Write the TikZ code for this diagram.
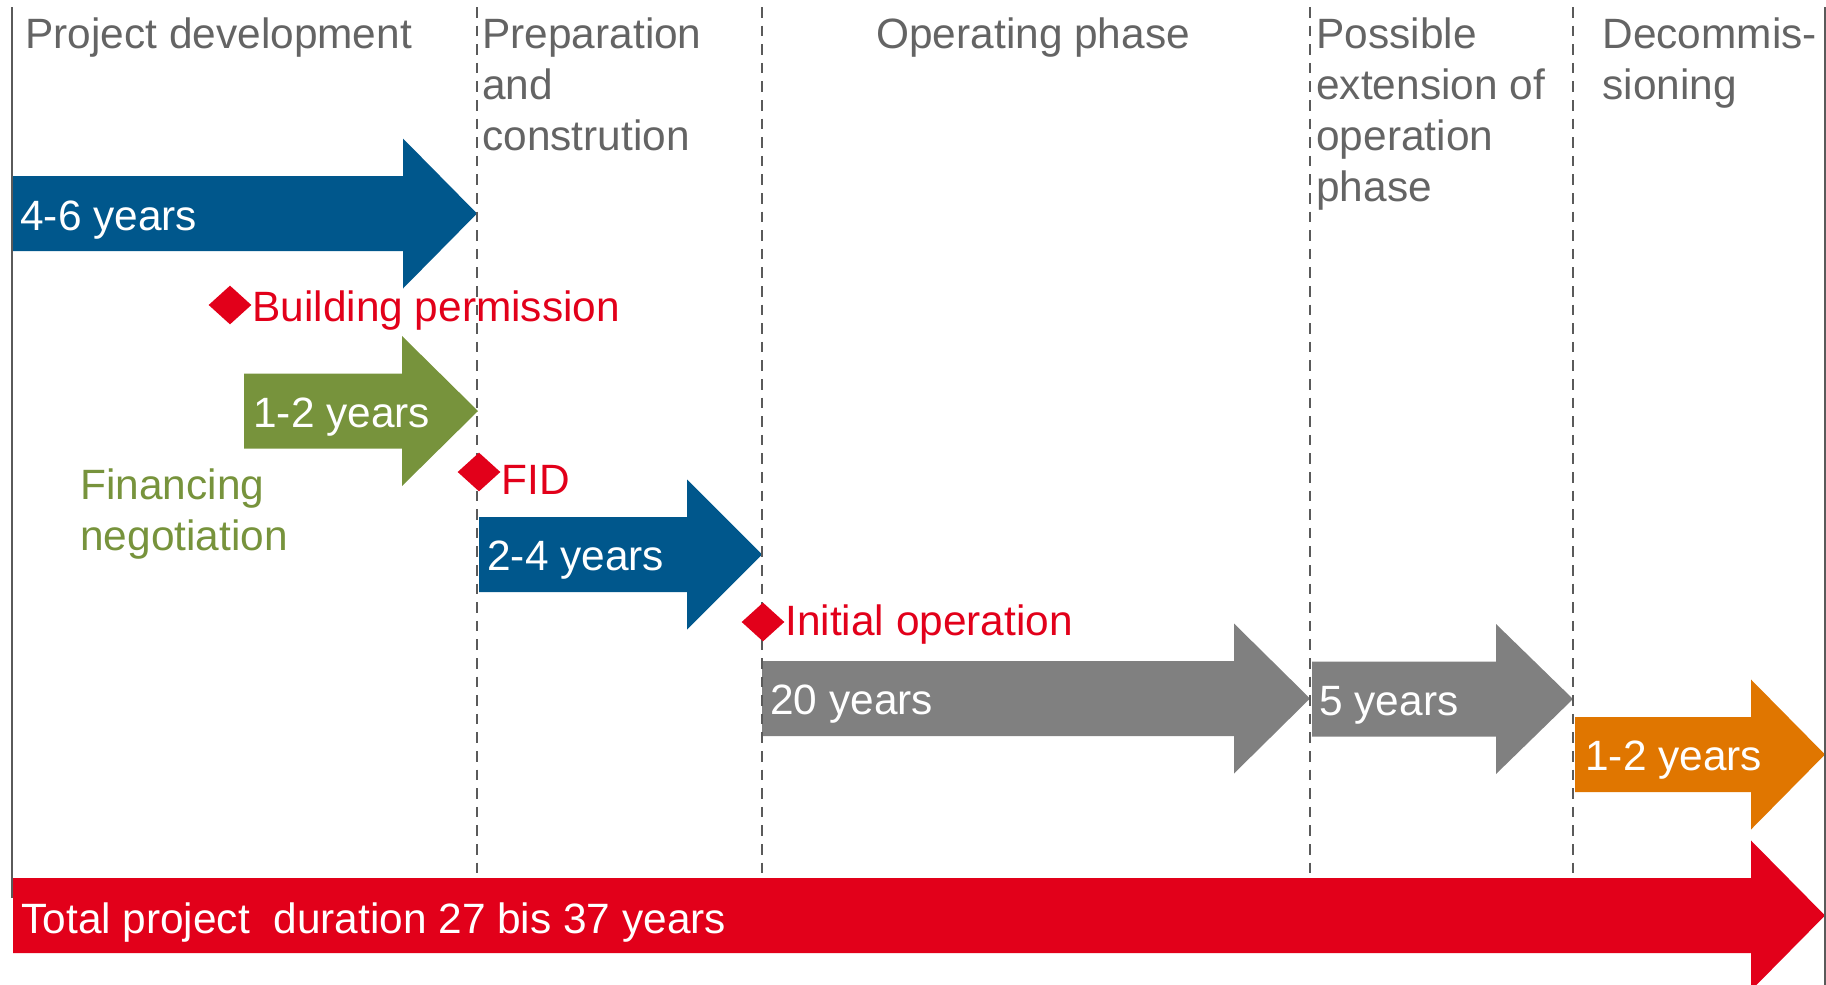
\documentclass[tikz,border=0pt]{standalone}
\usepackage{fontspec}
\setmainfont{Liberation Sans}
\usetikzlibrary{shapes.geometric}
\definecolor{cblue}{HTML}{00578C}
\definecolor{cgreen}{HTML}{77933C}
\definecolor{cgrayar}{HTML}{808080}
\definecolor{corange}{HTML}{E07600}
\definecolor{cred}{HTML}{E2001A}
\definecolor{chead}{HTML}{646464}
\definecolor{cline}{HTML}{5A5A5A}
\newcommand\blockarrow[5]{%
  \fill[#1] (#2,#5-37.5) -- (#3,#5-37.5) -- (#3,#5-75) -- (#4,#5) -- (#3,#5+75) -- (#3,#5+37.5) -- (#2,#5+37.5) -- cycle;}
\begin{document}
\begin{tikzpicture}[x=0.5pt,y=-0.5pt,
  txt/.style={anchor=base west, inner sep=0pt, font=\fontsize{21.2}{25.5}\selectfont},
  hdr/.style={txt, text=chead},
  lbl/.style={txt, text=white},
  ms/.style={txt, text=cred},
  mdiamond/.style={diamond, fill=cred, inner sep=0pt, minimum width=21.5pt, minimum height=19.5pt},
  sep/.style={draw=cline, line width=1.3pt, dash pattern=on 5.3pt off 4pt},
  frame/.style={draw=cline, line width=1pt}]
\useasboundingbox (0,0) rectangle (1826,985);
% block arrows
\blockarrow{cblue}{13}{403}{477}{213.5}
\blockarrow{cgreen}{244}{402}{478}{411}
\blockarrow{cblue}{479}{687}{762}{554.5}
\blockarrow{cgrayar}{762}{1234}{1310}{698.5}
\blockarrow{cgrayar}{1312}{1496}{1573}{699}
\blockarrow{corange}{1575}{1751}{1825}{754.5}
\blockarrow{cred}{13}{1751}{1825}{915.5}
% headers
\node[hdr] (h1) at (25,48) {Project development};
\node[hdr] (h2) at (482,48) {\vtop{\hbox{Preparation}\hbox{and}\hbox{constrution}}};
\node[hdr] (h3) at (876,48) {Operating phase};
\node[hdr] (h4) at (1316,48) {\vtop{\hbox{Possible}\hbox{extension of}\hbox{operation}\hbox{phase}}};
\node[hdr] (h5) at (1602,48) {\vtop{\hbox{Decommis-}\hbox{sioning}}};
\node[txt, text=cgreen] (fin) at (80,499) {\vtop{\hbox{Financing}\hbox{negotiation}}};
% arrow labels
\node[lbl] (a1) at (20,230) {4-6 years};
\node[lbl] (a2) at (253,427) {1-2 years};
\node[lbl] (a3) at (487,570) {2-4 years};
\node[lbl] (a4) at (770,714) {20 years};
\node[lbl] (a5) at (1319,715) {5 years};
\node[lbl] (a6) at (1585,770) {1-2 years};
\node[lbl] (a7) at (21,933) {Total project\ \ duration 27 bis 37 years};
% milestone texts
\node[ms] (t1) at (252,321) {Building permission};
\node[ms] (t2) at (501,494) {FID};
\node[ms] (t3) at (785,635) {Initial operation};
% separators
\draw[frame] (12,7) -- (12,898);
\draw[frame] (1825,7) -- (1825,985);
\draw[sep] (477,7) -- (477,878);
\draw[sep] (762,7) -- (762,878);
\draw[sep] (1310,7) -- (1310,878);
\draw[sep] (1573,7) -- (1573,878);
% milestone diamonds
\node[mdiamond] (d1) at (230,305) {};
\node[mdiamond] (d2) at (479,472) {};
\node[mdiamond] (d3) at (763,622) {};
\end{tikzpicture}
\end{document}
